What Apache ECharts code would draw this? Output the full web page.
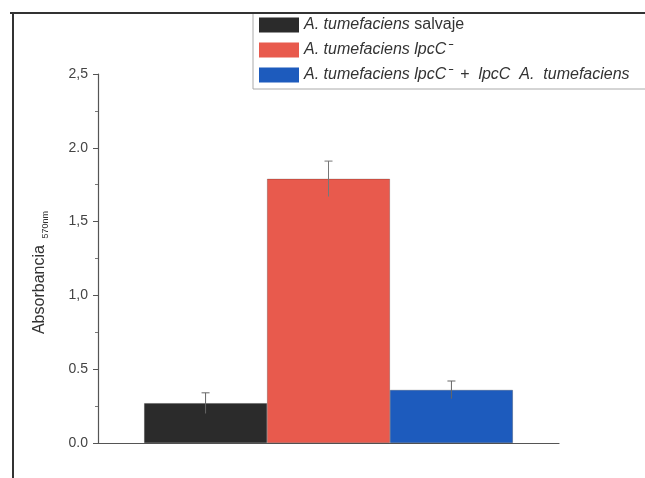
<!DOCTYPE html>
<html>
<head>
<meta charset="utf-8">
<script src="https://cdn.jsdelivr.net/npm/echarts@6/dist/echarts.min.js"></script>
<style>html,body{margin:0;padding:0;background:#fff}#c{width:645px;height:478px}</style>
</head>
<body>
<div id="c"></div>
<script>
// Absorbance at 570 nm for the three A. tumefaciens strains
const categories = [''];
const seriesNames = [
  '{i|A. tumefaciens} salvaje',
  '{i|A. tumefaciens lpcC⁻}',
  '{i|A. tumefaciens lpcC⁻}  +  {i|lpcC  A.  tumefaciens}'
];
const means = [0.27, 1.79, 0.36];
const errors = [0.07, 0.12, 0.06];
const colors = ['#2b2b2b', '#e85a4d', '#1d5bbd'];
const yTickLabels = { '0': '0.0', '0.5': '0.5', '1': '1,0', '1.5': '1,5', '2': '2.0', '2.5': '2,5' };

const GAP = 0.2; // barCategoryGap as a fraction of the band

const chart = echarts.init(document.getElementById('c'));

const barSeries = seriesNames.map((name, i) => ({
  name: name,
  type: 'bar',
  data: [means[i]],
  barGap: '0%',
  barCategoryGap: (GAP * 100) + '%',
  itemStyle: { color: colors[i], borderColor: 'rgba(0,0,0,0.35)', borderWidth: 0.6 },
  z: 2
}));

const errorSeries = {
  type: 'custom',
  silent: true,
  z: 3,
  data: means.map((m, i) => [0, m, errors[i], i]),
  renderItem: function (params, api) {
    const i = api.value(3);
    const band = api.size([1, 0])[0];
    const total = band * (1 - GAP);
    const w = total / means.length;
    const c = api.coord([0, 0]);
    const x = c[0] - total / 2 + w * (i + 0.5);
    const top = api.coord([0, api.value(1) + api.value(2)])[1];
    const bot = api.coord([0, api.value(1) - api.value(2)])[1];
    const style = { stroke: i === 1 ? '#777' : '#666', lineWidth: 1 };
    return {
      type: 'group',
      children: [
        { type: 'line', shape: { x1: x, y1: top, x2: x, y2: bot }, style: style },
        { type: 'line', shape: { x1: x - 4, y1: top, x2: x + 4, y2: top }, style: style }
      ]
    };
  }
};

chart.setOption({
  animation: false,
  color: colors,
  textStyle: { fontFamily: 'Liberation Sans, Arial, sans-serif' },
  grid: { left: 98, right: 86, top: 74, bottom: 35, containLabel: false },
  legend: {
    left: 253, top: 13, orient: 'vertical',
    padding: [4, 40, 6, 6],
    icon: 'rect',
    itemWidth: 40, itemHeight: 15, itemGap: 9,
    borderColor: '#aaa', borderWidth: 1,
    itemStyle: { borderWidth: 0 },
    data: seriesNames,
    textStyle: {
      fontSize: 16, color: '#333',
      rich: { i: { fontStyle: 'italic', fontSize: 16, color: '#333' } }
    }
  },
  xAxis: {
    type: 'category', data: categories,
    axisLine: { lineStyle: { color: '#555', width: 1.2 } },
    axisTick: { alignWithLabel: true, length: 6, lineStyle: { color: '#555' } },
    axisLabel: { show: false }
  },
  yAxis: {
    type: 'value', min: 0, max: 2.5, interval: 0.5,
    name: '{a|Absorbancia}  {s|570nm}',
    nameLocation: 'middle', nameRotate: 90, nameGap: 48,
    nameTextStyle: {
      padding: [0, 28, 0, 0],
      rich: {
        a: { fontSize: 16, color: '#333' },
        s: { fontSize: 9, color: '#333', padding: [12, 0, 0, 0] }
      }
    },
    axisLine: { show: true, lineStyle: { color: '#555', width: 1.2 } },
    axisTick: { show: true, length: 5, lineStyle: { color: '#555' } },
    minorTick: { show: true, splitNumber: 2, length: 3, lineStyle: { color: '#777' } },
    splitLine: { show: false },
    axisLabel: {
      fontSize: 14, color: '#444', margin: 10,
      formatter: v => yTickLabels[String(v)] ?? ''
    }
  },
  graphic: [
    { type: 'line', shape: { x1: 10, y1: 13, x2: 645, y2: 13 }, style: { stroke: '#333', lineWidth: 2 }, z: 10 },
    { type: 'line', shape: { x1: 13, y1: 13, x2: 13, y2: 478 }, style: { stroke: '#333', lineWidth: 2 }, z: 10 }
  ],
  series: [...barSeries, errorSeries]
});
</script>
</body>
</html>
